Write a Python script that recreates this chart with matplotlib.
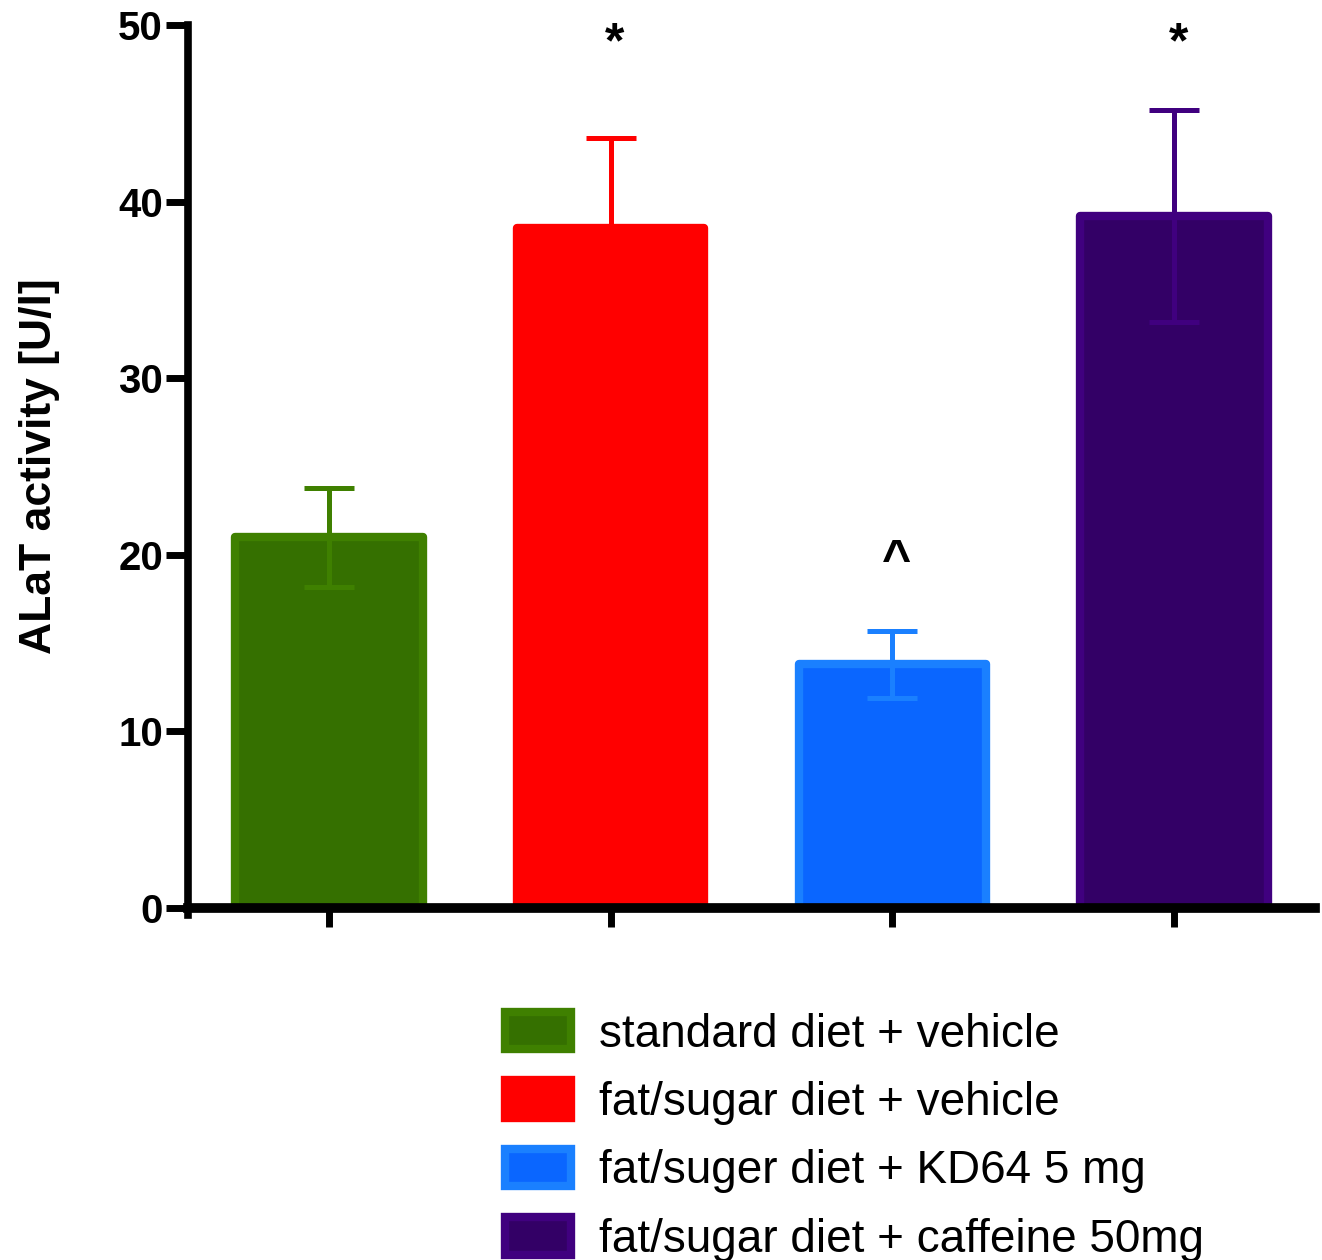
import matplotlib
matplotlib.use('Agg')
import matplotlib.pyplot as plt

plt.rcParams['font.family'] = ['Liberation Sans', 'DejaVu Sans']

# data
grupos = ['standard diet + vehicle', 'fat/sugar diet + vehicle',
          'fat/suger diet + KD64 5 mg', 'fat/sugar diet + caffeine 50mg']
medias = [21.0, 38.5, 13.8, 39.2]
erros = [2.8, 5.1, 1.9, 6.0]
marcas = ['', '*', '^', '*']
marca_y = [0, 48.9, 19.6, 48.9]

cor_face = ['#357000', '#ff0000', '#0a66ff', '#330066']
cor_borda = ['#3f8000', '#ff0000', '#1a80ff', '#40007f']

fig = plt.figure(figsize=(13.22, 12.6), dpi=100)
ax = fig.add_axes([0.1422, 0.2794, 0.8525, 0.7008])

x = range(len(medias))
barras = []
for i in x:
    b = ax.bar(i, medias[i], width=0.665, color=cor_face[i], edgecolor=cor_borda[i],
               linewidth=6, joinstyle='round', label=grupos[i], zorder=2)
    barras.append(b[0])
    ax.errorbar(i, medias[i], yerr=erros[i], fmt='none', ecolor=cor_borda[i],
                elinewidth=3.6, capsize=18, capthick=3.6, zorder=3)
    if marcas[i]:
        ax.text(i + 0.015, marca_y[i], marcas[i], ha='center', va='center',
                fontsize=36, fontweight='bold')

ax.set_xlim(-0.5, 3.5)
ax.set_ylim(0, 50)
ax.set_xticks(list(x))
ax.set_xticklabels([])
ax.set_yticks([0, 10, 20, 30, 40, 50])
for s in ['top', 'right']:
    ax.spines[s].set_visible(False)
ax.spines['left'].set_linewidth(5.5)
ax.spines['bottom'].set_linewidth(7)
ax.spines['left'].set_bounds(-0.4, 50)
ax.tick_params(axis='y', length=16, width=5, pad=2, labelsize=29)
ax.tick_params(axis='x', length=14, width=5)
for t in ax.get_yticklabels():
    t.set_fontweight('bold')
ax.set_ylabel('ALaT activity [U/l]', fontsize=32, fontweight='bold', labelpad=42)

fig.legend(handles=barras, labels=grupos, loc='upper left',
           bbox_to_anchor=(505 / 1322, 1 - 1012 / 1260), frameon=False,
           fontsize=33, handlelength=1.45, handleheight=0.88, handletextpad=0.6,
           labelspacing=0.52, borderpad=0, borderaxespad=0)

fig.savefig('out.png', dpi=100)
